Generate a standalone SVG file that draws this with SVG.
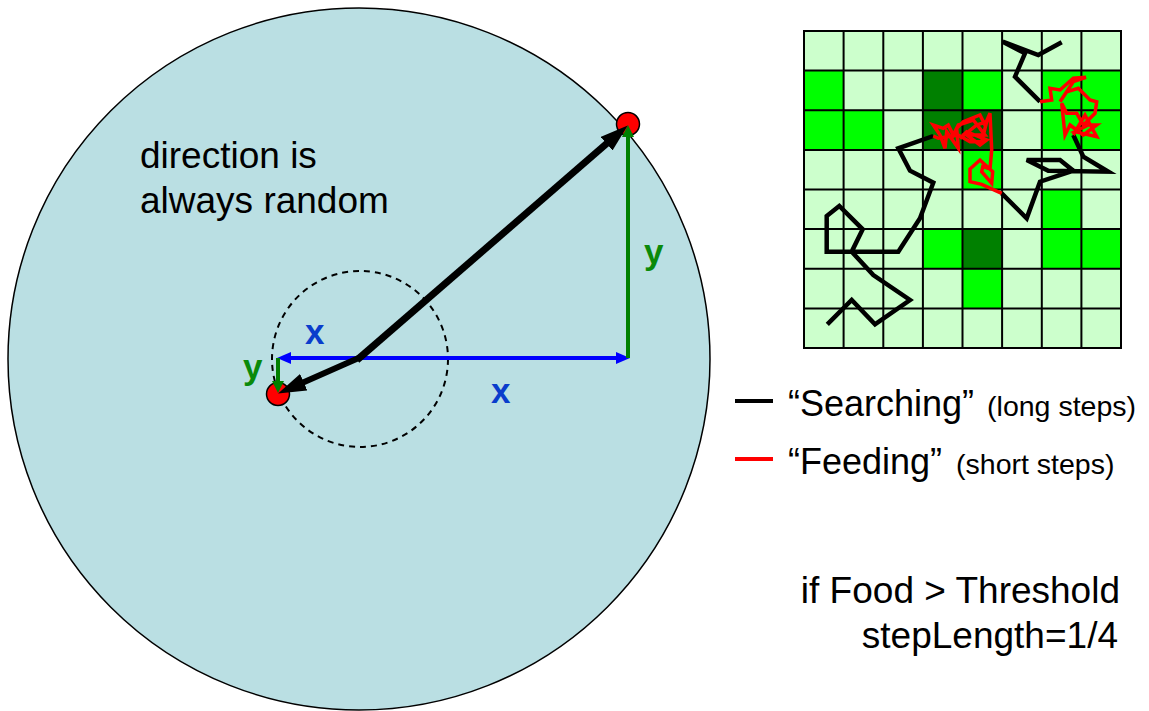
<svg xmlns="http://www.w3.org/2000/svg" width="1149" height="711" viewBox="0 0 1149 711">
<style>
.t{font-family:"Liberation Sans",Arial,sans-serif;fill:#000}
.lbl{font-family:"Liberation Sans",Arial,sans-serif;font-weight:bold;font-size:35px}
.lt{fill:#CCFFCC}.br{fill:#00FF00}.dk{fill:#008000}.dd{fill:#006400}
.grid{stroke:#000;stroke-width:2;fill:none}
.walk{fill:none;stroke:#000;stroke-width:4.5;stroke-linejoin:miter;stroke-linecap:butt}
.feed{fill:none;stroke:#FF0000;stroke-width:3.5;stroke-linejoin:miter}
.dot{fill:#FF0000;stroke:#000;stroke-width:1.5}
</style>
<defs>
<marker id="hb" markerUnits="userSpaceOnUse" markerWidth="14" markerHeight="12" refX="4" refY="6" orient="auto"><path d="M0,0 L14,6 L0,12 z" fill="#0000FF"/></marker>
<marker id="hg" markerUnits="userSpaceOnUse" markerWidth="12" markerHeight="12" refX="2" refY="6" orient="auto"><path d="M0,0 L12,6 L0,12 z" fill="#008000"/></marker>
<marker id="hk" markerUnits="userSpaceOnUse" markerWidth="28" markerHeight="18" refX="13" refY="9" orient="auto"><path d="M0,0 L28,9 L0,18 z" fill="#000"/></marker>
</defs>

<g id="plane">
<circle cx="359" cy="359" r="351" fill="#BADFE3" stroke="#000" stroke-width="1.5"/>
<circle cx="360" cy="359" r="88" fill="none" stroke="#000" stroke-width="2" stroke-dasharray="6,5"/>
</g>
<g id="dots">
<circle class="dot" cx="628" cy="124" r="11.5"/>
<circle class="dot" cx="278" cy="394" r="11.5"/>
</g>
<g id="connectors">
<line x1="360" y1="358" x2="620" y2="358" stroke="#0000FF" stroke-width="4" marker-end="url(#hb)"/>
<line x1="360" y1="358" x2="287" y2="358" stroke="#0000FF" stroke-width="4" marker-end="url(#hb)"/>
<line x1="628" y1="358" x2="628" y2="135" stroke="#008000" stroke-width="4" marker-end="url(#hg)"/>
<line x1="278" y1="358" x2="278" y2="383" stroke="#008000" stroke-width="4" marker-end="url(#hg)"/>
<path d="M357,360 L616.4,135.2" fill="none" stroke="#000" stroke-width="7" marker-end="url(#hk)"/>
<path d="M361,357 L345,364 L291.8,387.4" fill="none" stroke="#000" stroke-width="6" stroke-linejoin="round" marker-end="url(#hk)"/>
</g>
<g id="labels">
<text class="t" x="140" y="168" font-size="37">direction is</text>
<text class="t" x="140" y="213" font-size="37">always random</text>
<text class="lbl" x="305" y="344" fill="#0A3DCC">x</text>
<text class="lbl" x="491" y="403" fill="#0A3DCC">x</text>
<text class="lbl" x="644" y="264" fill="#0A8A0A">y</text>
<text class="lbl" x="243" y="379" fill="#0A8A0A">y</text>
</g>

<g id="gridmap">
<rect class="lt" x="804" y="31" width="317" height="317"/>
<rect class="br" x="804" y="70.6" width="39.6" height="39.7"/>
<rect class="dk" x="922.9" y="70.6" width="39.6" height="39.7"/>
<rect class="br" x="962.5" y="70.6" width="39.6" height="39.7"/>
<rect class="br" x="1041.8" y="70.6" width="79.2" height="39.7"/>
<rect class="br" x="804" y="110.3" width="79.3" height="39.6"/>
<rect class="dk" x="922.9" y="110.3" width="39.6" height="39.6"/>
<rect class="dd" x="962.5" y="110.3" width="39.6" height="39.6"/>
<rect class="br" x="1041.8" y="110.3" width="79.2" height="39.6"/>
<rect class="br" x="962.5" y="149.9" width="39.6" height="39.6"/>
<rect class="br" x="1041.8" y="189.5" width="39.6" height="39.6"/>
<rect class="br" x="922.9" y="229.1" width="39.6" height="39.7"/>
<rect class="dk" x="962.5" y="229.1" width="39.6" height="39.7"/>
<rect class="br" x="1041.8" y="229.1" width="79.2" height="39.7"/>
<rect class="br" x="962.5" y="268.8" width="39.6" height="39.6"/>
<path class="grid" d="M804,31 H1121 V348 H804 Z M843.6,31 V348 M883.3,31 V348 M922.9,31 V348 M962.5,31 V348 M1002.1,31 V348 M1041.8,31 V348 M1081.4,31 V348 M804,70.6 H1121 M804,110.3 H1121 M804,149.9 H1121 M804,189.5 H1121 M804,229.1 H1121 M804,268.8 H1121 M804,308.4 H1121"/>
<path class="walk" d="M1061.7,42.3 L1038.3,55 L1002.7,41.7 L1025,53.3 L1015,76.7 L1040,101.7"/>
<path class="walk" d="M1073.3,135 L1083.3,156.7 L1108.3,171.7 L1048.3,170.7 L1026.7,160 L1060,160 L1073.3,170.7 L1040,181.7 L1026.7,218.3 L1001.7,193.3"/>
<path class="walk" d="M933.3,136 L898.3,148.3 L910,170.7 L933.3,182.7 L920,218.3 L898.3,251.7 L826.7,251.7 L826.7,216 L839.3,206 L862.7,229.3 L851.7,251.7 L873.3,275 L910,300 L875,324.3 L851.7,300 L827.3,324.3"/>
<path class="feed" d="M1040,101.7 L1051.7,100 L1050,88.3 L1060,90 L1073.3,78.3 L1086,77.3 L1073.3,81.7 L1060,101.7 L1066.7,91.7 L1078.3,88.3 L1090,100 L1096.7,101.7 L1095,113.3 L1083.3,125 L1076.7,113.3 L1066.7,113.3 L1061.7,103.3 L1065,135 L1070,125 L1083.3,135 L1096.7,125 L1088.3,125 L1075,131.7 L1096.7,136.7 L1085,115 L1073.3,135"/>
<path class="feed" d="M1001.7,193.3 L981.7,184.3 L970,181.7 L970,169 L980,160 L992.7,171.7 L991.7,183.3 L981.7,171.7 L982.7,166.7 L990,169 L991.7,150 L990,113.3 L985,125 L980,115 L963.3,121.7 L956.7,128.3 L958.3,148.3 L946.7,131.7 L945,148.3 L940,135 L933.3,125 L943.3,128.3 L948.3,125 L953.3,135 L958.3,125 L973.3,120 L985,135 L966.7,135 L980,145 L986.7,140 L966.7,131.7 L960,138.3 L976.7,125 L986.7,121.7 L981.7,141.7 L970,141.7 L958.3,135 L938.3,138.3 L933.3,136"/>
</g>

<g id="legend">
<line x1="735" y1="401" x2="773" y2="401" stroke="#000" stroke-width="4"/>
<text class="t" x="788" y="416" font-size="36">“Searching”<tspan font-size="28.5" dx="13">(long steps)</tspan></text>
<line x1="735" y1="459" x2="773" y2="459" stroke="#FF0000" stroke-width="4"/>
<text class="t" x="788" y="474" font-size="36">“Feeding”<tspan font-size="28.5" dx="14">(short steps)</tspan></text>
</g>
<g id="rule">
<text class="t" x="1120" y="603" font-size="37" text-anchor="end">if Food &gt; Threshold</text>
<text class="t" x="1118" y="648" font-size="37" text-anchor="end">stepLength=1/4</text>
</g>
</svg>
